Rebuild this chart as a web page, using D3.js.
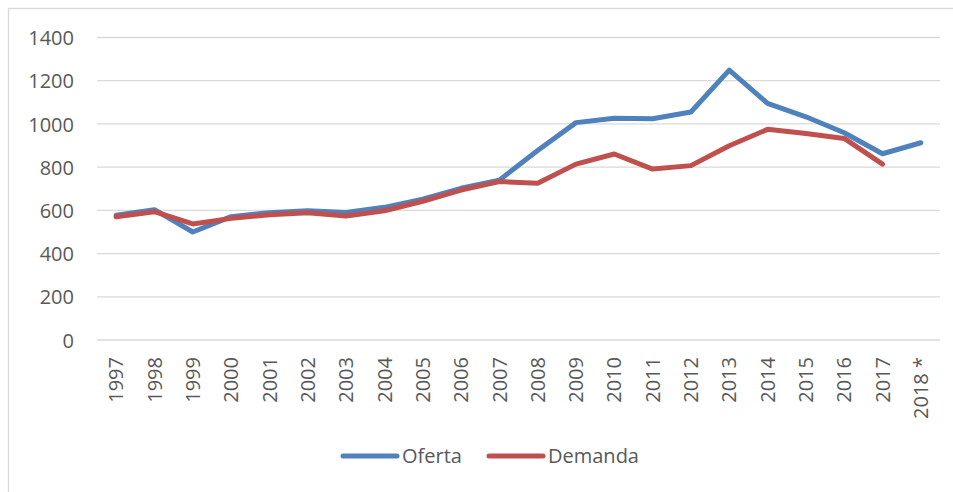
<!DOCTYPE html>
<html>
<head>
<meta charset="utf-8">
<script src="https://cdn.jsdelivr.net/npm/d3@7"></script>
<style>
  body { margin: 0; background: #fff; }
  svg text { font-family: "Open Sans", "Liberation Sans", sans-serif; fill: #595959; }
</style>
</head>
<body>
<div id="chart"></div>
<script>
// categories and series
var years = ["1997", "1998", "1999", "2000", "2001", "2002", "2003", "2004", "2005", "2006", "2007",
  "2008", "2009", "2010", "2011", "2012", "2013", "2014", "2015", "2016", "2017", "2018 *"];
var oferta = [578, 603, 500, 571, 589, 598, 590, 614, 652, 702, 740,
  877, 1006, 1026, 1024, 1055, 1249, 1095, 1033, 959, 862, 913];
var demanda = [570, 594, 537, 563, 580, 589, 574, 598, 642, 694, 733,
  725, 814, 861, 791, 807, 899, 975, 956, 933, 814];
var yTicks = [0, 200, 400, 600, 800, 1000, 1200, 1400];

var series = [
  { name: "Oferta", values: oferta, color: "#4F81BD" },
  { name: "Demanda", values: demanda, color: "#C0504D" }
];

var w = 953, h = 492;
var svg = d3.select("#chart").append("svg")
  .attr("width", w)
  .attr("height", h);

// chart border (only left and top are inside the picture)
svg.append("rect")
  .attr("x", 8.5).attr("y", 8.5)
  .attr("width", 960).attr("height", 500)
  .attr("fill", "none")
  .attr("stroke", "#D9D9D9")
  .attr("stroke-width", 1.3);

var x = d3.scaleBand().domain(years).range([97, 940]);
var y = d3.scaleLinear().domain([0, 1400]).range([340, 37.5]);

// gridlines
svg.append("g").selectAll("line")
  .data(yTicks)
  .join("line")
  .attr("x1", 97).attr("x2", 940)
  .attr("y1", function(d) { return y(d); })
  .attr("y2", function(d) { return y(d); })
  .attr("stroke", "#D9D9D9")
  .attr("stroke-width", 1.3);

// y axis labels
var yAxis = d3.axisLeft(y).tickValues(yTicks).tickFormat(d3.format("d")).tickSize(0).tickPadding(0);
var gy = svg.append("g").attr("transform", "translate(74,0)").call(yAxis);
gy.select(".domain").remove();
gy.selectAll("text")
  .attr("font-size", 20)
  .attr("dy", "0.36em")
  .style("font-family", "'Open Sans', sans-serif")
  .attr("fill", "#595959");

// x axis labels, vertical
var xAxis = d3.axisBottom(x).tickSize(0).tickPadding(0);
var gx = svg.append("g").attr("transform", "translate(0,357)").call(xAxis);
gx.select(".domain").remove();
gx.selectAll("text")
  .attr("font-size", 20)
  .attr("transform", "rotate(-90)")
  .attr("text-anchor", "end")
  .attr("x", 0)
  .attr("y", 0)
  .attr("dy", "0.36em")
  .style("font-family", "'Open Sans', sans-serif")
  .attr("fill", "#595959");

// lines
var line = d3.line()
  .x(function(d, i) { return x(years[i]) + x.bandwidth() / 2; })
  .y(function(d) { return y(d); });

series.forEach(function(s) {
  svg.append("path")
    .datum(s.values)
    .attr("d", line)
    .attr("fill", "none")
    .attr("stroke", s.color)
    .attr("stroke-width", 5)
    .attr("stroke-linejoin", "round")
    .attr("stroke-linecap", "round");
});

// legend
var legendX = [343, 489];
var legend = svg.append("g").attr("transform", "translate(0,456)");
series.forEach(function(s, i) {
  legend.append("line")
    .attr("x1", legendX[i]).attr("x2", legendX[i] + 54)
    .attr("y1", 0).attr("y2", 0)
    .attr("stroke", s.color)
    .attr("stroke-width", 5)
    .attr("stroke-linecap", "round");
  legend.append("text")
    .attr("x", legendX[i] + 59)
    .attr("y", 0)
    .attr("dy", "0.36em")
    .attr("font-size", 20)
    .text(s.name);
});
</script>
</body>
</html>
